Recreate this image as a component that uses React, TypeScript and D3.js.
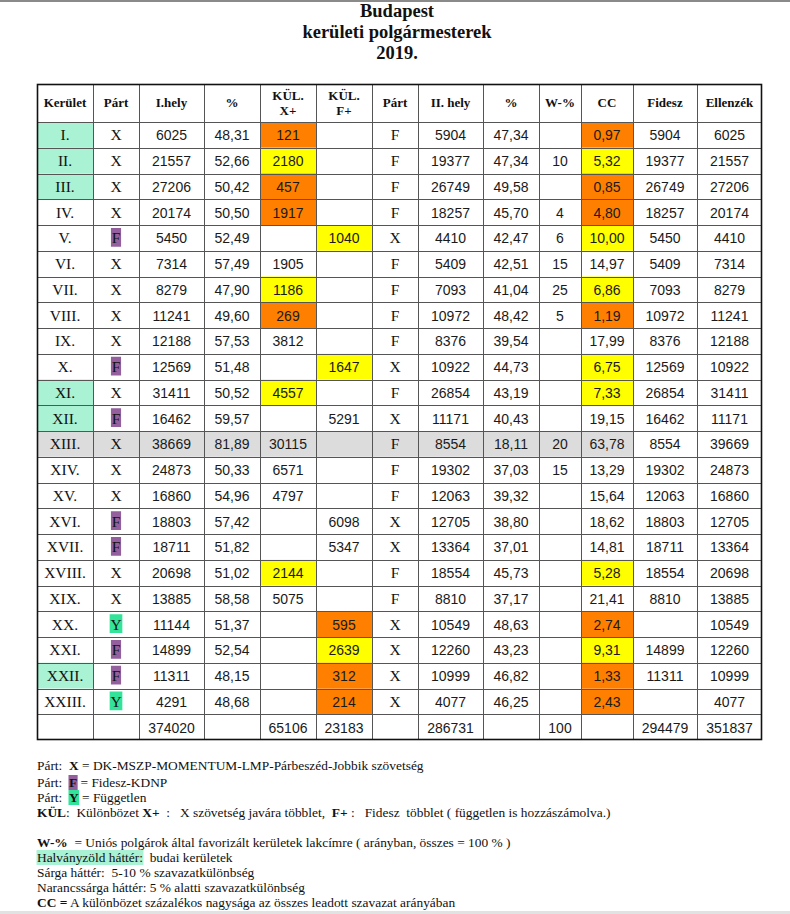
import React, { useMemo } from "react";
import * as d3 from "d3";

const districts = ["I.","II.","III.","IV.","V.","VI.","VII.","VIII.","IX.","X.","XI.","XII.","XIII.","XIV.","XV.","XVI.","XVII.","XVIII.","XIX.","XX.","XXI.","XXII.","XXIII."];
const budai = ["I.","II.","III.","XI.","XII.","XXII."];
const greyRow = "XIII.";
const party1 = ["X","X","X","X","F","X","X","X","X","F","X","F","X","X","X","F","F","X","X","Y","F","F","Y"];
const firstVotes = [6025,21557,27206,20174,5450,7314,8279,11241,12188,12569,31411,16462,38669,24873,16860,18803,18711,20698,13885,11144,14899,11311,4291];
const firstPct = [48.31,52.66,50.42,50.50,52.49,57.49,47.90,49.60,57.53,51.48,50.52,59.57,81.89,50.33,54.96,57.42,51.82,51.02,58.58,51.37,52.54,48.15,48.68];
const kulX = [121,2180,457,1917,null,1905,1186,269,3812,null,4557,null,30115,6571,4797,null,null,2144,5075,null,null,null,null];
const kulF = [null,null,null,null,1040,null,null,null,null,1647,null,5291,null,null,null,6098,5347,null,null,595,2639,312,214];
const party2 = ["F","F","F","F","X","F","F","F","F","X","F","X","F","F","F","X","X","F","F","X","X","X","X"];
const secondVotes = [5904,19377,26749,18257,4410,5409,7093,10972,8376,10922,26854,11171,8554,19302,12063,12705,13364,18554,8810,10549,12260,10999,4077];
const secondPct = [47.34,47.34,49.58,45.70,42.47,42.51,41.04,48.42,39.54,44.73,43.19,40.43,18.11,37.03,39.32,38.80,37.01,45.73,37.17,48.63,43.23,46.82,46.25];
const wPct = [null,10,null,4,6,15,25,5,null,null,null,null,20,15,null,null,null,null,null,null,null,null,null];
const ccPct = [0.97,5.32,0.85,4.80,10.00,14.97,6.86,1.19,17.99,6.75,7.33,19.15,63.78,13.29,15.64,18.62,14.81,5.28,21.41,2.74,9.31,1.33,2.43];
const fidesz = [5904,19377,26749,18257,5450,5409,7093,10972,8376,12569,26854,16462,8554,19302,12063,18803,18711,18554,8810,null,14899,11311,null];
const ellenzek = [6025,21557,27206,20174,4410,7314,8279,11241,12188,10922,31411,11171,39669,24873,16860,12705,13364,20698,13885,10549,12260,10999,4077];
const totalFirst = 374020;
const totalKulX = 65106;
const totalKulF = 23183;
const totalSecond = 286731;
const totalW = 100;
const totalFidesz = 294479;
const totalEllenzek = 351837;

const headers = [["Kerület"],["Párt"],["I.hely"],["%"],["KÜL.","X+"],["KÜL.","F+"],["Párt"],["II. hely"],["%"],["W-%"],["CC"],["Fidesz"],["Ellenzék"]];
const titleLines = ["Budapest","kerületi polgármesterek","2019."];

const C_ORANGE = "#ff8000";
const C_YELLOW = "#ffff00";
const C_MINT = "#a9f2d3";
const C_GREY = "#dcdcdc";
const C_PURPLE = "#93609d";
const C_GREEN = "#33e39a";

const SERIF = "'Liberation Serif', 'Times New Roman', serif";
const SANS = "'Liberation Sans', Arial, sans-serif";

const locale = d3.formatLocale({ decimal: ",", thousands: "", grouping: [3], currency: ["", ""] });
const f2 = locale.format(".2f");
const fi = (v: number | null) => (v == null ? "" : String(v));

type Seg = { t: string; b?: boolean; bg?: string };
const legendLines: { y: number; segs: Seg[] }[] = [
  { y: 770, segs: [{ t: "Párt:  " }, { t: "X", b: true }, { t: " = DK-MSZP-MOMENTUM-LMP-Párbeszéd-Jobbik szövetség" }] },
  { y: 787, segs: [{ t: "Párt:  " }, { t: "F", b: true, bg: C_PURPLE }, { t: " = Fidesz-KDNP" }] },
  { y: 802, segs: [{ t: "Párt:  " }, { t: "Y", b: true, bg: C_GREEN }, { t: " = Független" }] },
  { y: 817, segs: [{ t: "KÜL", b: true }, { t: ":  Különbözet " }, { t: "X+", b: true }, { t: "  :   X szövetség javára többlet,  " }, { t: "F+", b: true }, { t: " :   Fidesz  többlet ( független is hozzászámolva.)" }] },
  { y: 847, segs: [{ t: "W-%", b: true }, { t: "  = Uniós polgárok által favorizált kerületek lakcímre ( arányban, összes = 100 % )" }] },
  { y: 862, segs: [{ t: "Halványzöld háttér:", bg: C_MINT }, { t: "  budai kerületek" }] },
  { y: 877, segs: [{ t: "Sárga háttér:  5-10 % szavazatkülönbség" }] },
  { y: 892, segs: [{ t: "Narancssárga háttér: 5 % alatti szavazatkülönbség" }] },
  { y: 907, segs: [{ t: "CC =", b: true }, { t: " A különbözet százalékos nagysága az összes leadott szavazat arányában" }] },
];

function hl(cc: number) {
  if (cc < 5) return C_ORANGE;
  if (cc <= 10) return C_YELLOW;
  return null;
}

export default function App() {
  const W = 790, H = 914;
  const widths = [56, 46, 65, 56, 56, 56, 46, 65, 56, 42, 52, 64, 65];
  const x0 = 37;
  const xs = [x0, ...Array.from(d3.cumsum(widths)).map((v) => x0 + v)];
  const rowKeys = [...districts, "Σ"];
  const y = d3.scaleBand<string>().domain(rowKeys).range([122, 740]).paddingInner(0);
  const headTop = 84, headBot = 122;
  const left = xs[0], right = xs[xs.length - 1], bottom = 740;
  const LFS = 13.4;

  const ctx = useMemo(() => {
    const c = document.createElement("canvas");
    return c.getContext("2d")!;
  }, []);
  const measure = (t: string, bold: boolean, size: number, fam: string) => {
    ctx.font = `${bold ? "bold " : ""}${size}px ${fam}`;
    return ctx.measureText(t).width;
  };

  const bgRects: JSX.Element[] = [];
  const texts: JSX.Element[] = [];
  const cx = (c: number) => (xs[c] + xs[c + 1]) / 2;

  districts.forEach((d, i) => {
    const top = y(d)!;
    const h = y.bandwidth();
    const hc = hl(ccPct[i]);
    if (d === greyRow) {
      bgRects.push(<rect key={`g${i}`} x={xs[0]} y={top} width={xs[11] - xs[0]} height={h} fill={C_GREY} />);
    }
    if (budai.includes(d)) {
      bgRects.push(<rect key={`m${i}`} x={xs[0]} y={top} width={widths[0]} height={h} fill={C_MINT} />);
    }
    if (hc) {
      if (kulX[i] != null) bgRects.push(<rect key={`kx${i}`} x={xs[4]} y={top} width={widths[4]} height={h} fill={hc} />);
      if (kulF[i] != null) bgRects.push(<rect key={`kf${i}`} x={xs[5]} y={top} width={widths[5]} height={h} fill={hc} />);
      bgRects.push(<rect key={`cc${i}`} x={xs[10]} y={top} width={widths[10]} height={h} fill={hc} />);
    }
    const base = top + h / 2 + 5.5;
    const p1 = party1[i];
    if (p1 !== "X") {
      const w = measure(p1, false, 15.5, SERIF) + 1.5;
      bgRects.push(<rect key={`pb${i}`} x={cx(1) - w / 2} y={top + 3} width={w} height={h - 7} fill={p1 === "F" ? C_PURPLE : C_GREEN} />);
    }
    const serifCells: [number, string][] = [[0, d], [1, p1], [6, party2[i]]];
    serifCells.forEach(([c, t]) => {
      texts.push(<text key={`s${i}-${c}`} x={cx(c)} y={base} textAnchor="middle" fontFamily={SERIF} fontSize={15.5} fill="#111">{t}</text>);
    });
    const sansCells: [number, string][] = [
      [2, fi(firstVotes[i])], [3, f2(firstPct[i])], [4, fi(kulX[i])], [5, fi(kulF[i])],
      [7, fi(secondVotes[i])], [8, f2(secondPct[i])], [9, fi(wPct[i])], [10, f2(ccPct[i])],
      [11, fi(fidesz[i])], [12, fi(ellenzek[i])],
    ];
    sansCells.forEach(([c, t]) => {
      if (!t) return;
      texts.push(<text key={`n${i}-${c}`} x={cx(c)} y={base} textAnchor="middle" fontFamily={SANS} fontSize={14} fill="#1a1a1a">{t}</text>);
    });
  });

  {
    const top = y("Σ")!;
    const base = top + y.bandwidth() / 2 + 5.5;
    const tot: [number, number][] = [[2, totalFirst], [4, totalKulX], [5, totalKulF], [7, totalSecond], [9, totalW], [11, totalFidesz], [12, totalEllenzek]];
    tot.forEach(([c, v]) => {
      texts.push(<text key={`t${c}`} x={cx(c)} y={base} textAnchor="middle" fontFamily={SANS} fontSize={14} fill="#1a1a1a">{String(v)}</text>);
    });
  }

  const lines: JSX.Element[] = [];
  xs.slice(1, -1).forEach((x, k) => {
    lines.push(<line key={`v${k}`} x1={x + 0.5} x2={x + 0.5} y1={headTop} y2={bottom} stroke="#555" strokeWidth={1} />);
  });
  [headBot, ...rowKeys.slice(1).map((r) => y(r)!)].forEach((yy, k) => {
    lines.push(<line key={`h${k}`} x1={left} x2={right} y1={Math.round(yy) + 0.5} y2={Math.round(yy) + 0.5} stroke="#555" strokeWidth={1} />);
  });

  const legend: JSX.Element[] = [];
  legendLines.forEach((ln, li) => {
    let x = 37;
    ln.segs.forEach((s, si) => {
      const w = measure(s.t, !!s.b, LFS, SERIF);
      if (s.bg) {
        legend.push(<rect key={`lb${li}-${si}`} x={x - 0.5} y={ln.y - 12} width={w + 1} height={15} fill={s.bg} />);
      }
      legend.push(
        <text key={`lt${li}-${si}`} x={x} y={ln.y} fontFamily={SERIF} fontSize={LFS} fontWeight={s.b ? "bold" : "normal"} fill="#111" style={{ whiteSpace: "pre" }}>{s.t}</text>
      );
      x += w;
    });
  });

  return (
    <svg width={W} height={H} viewBox={`0 0 ${W} ${H}`} style={{ position: "absolute", left: 0, top: 0, background: "#fff" }}>
      <rect x={0} y={0} width={W} height={H} fill="#fff" />
      <rect x={0} y={0} width={W} height={2} fill="#8a8a8a" />
      {titleLines.map((t, i) => (
        <text key={`tt${i}`} x={397} y={17 + i * 21} textAnchor="middle" fontFamily={SERIF} fontWeight="bold" fontSize={18.5} fill="#111">{t}</text>
      ))}
      {bgRects}
      {headers.map((hd, c) => (
        <text key={`hd${c}`} textAnchor="middle" fontFamily={SERIF} fontWeight="bold" fontSize={13} fill="#111">
          {hd.length === 1 ? (
            <tspan x={cx(c)} y={107}>{hd[0]}</tspan>
          ) : (
            hd.map((s, k) => <tspan key={k} x={cx(c)} y={100 + k * 15}>{s}</tspan>)
          )}
        </text>
      ))}
      {lines}
      <rect x={left + 0.5} y={headTop + 0.5} width={right - left - 1} height={bottom - headTop - 1} fill="none" stroke="#111" strokeWidth={1.6} />
      {texts}
      {legend}
      <rect x={0} y={H - 3} width={W} height={3} fill="#e2e2e2" />
    </svg>
  );
}
